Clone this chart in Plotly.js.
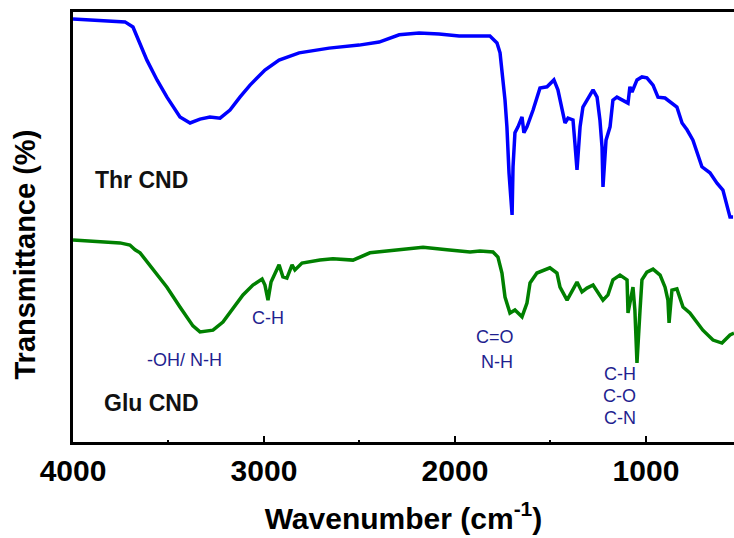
<!DOCTYPE html>
<html>
<head>
<meta charset="utf-8">
<script src="https://cdn.plot.ly/plotly-3.0.1.min.js"></script>
<style>html,body{margin:0;padding:0;background:#fff;}#chart{width:734px;height:538px;}</style>
</head>
<body>
<div id="chart"></div>
<script>
// Thr CND spectrum (wavenumber cm^-1, transmittance a.u.)
const thrWavenumber = [4000,3728,3686,3613,3560,3508,3440,3387,3335,3283,3230,3178,3126,3073,2995,2921,2816,2659,2502,2397,2292,2188,2083,1978,1874,1817,1780,1764,1738,1728,1717,1701,1696,1686,1670,1649,1639,1623,1591,1555,1518,1482,1461,1424,1408,1382,1372,1361,1345,1330,1277,1256,1241,1230,1225,1209,1188,1173,1152,1120,1094,1084,1073,1047,1021,995,963,937,900,838,811,785,754,707,665,628,597,560,544];
const thrTransmittance = [98.4,97.7,96.5,88.8,84.2,80.2,75.6,74.2,75.1,75.6,75.3,77.2,80.2,83.0,86.5,88.8,90.5,91.6,92.3,93.0,94.7,95.1,94.9,94.4,94.4,94.4,92.8,90.5,79.5,73.3,62.6,52.8,64.0,71.9,73.3,75.6,71.9,73.3,77.2,82.3,82.6,84.2,81.9,74.2,75.3,74.9,69.5,63.3,73.3,77.9,81.9,80.2,74.9,68.6,59.3,70.2,73.3,79.5,80.2,79.5,78.8,82.6,81.4,84.2,84.9,84.7,83.0,80.2,80.0,77.9,74.2,72.6,70.2,64.0,62.6,60.2,58.6,52.3,52.3];

// Glu CND spectrum
const gluWavenumber = [4000,3754,3702,3675,3649,3581,3508,3440,3372,3335,3267,3215,3162,3110,3058,3010,2995,2979,2963,2942,2921,2901,2880,2853,2838,2801,2707,2639,2534,2445,2304,2167,2042,1921,1869,1801,1775,1754,1738,1712,1686,1649,1623,1607,1571,1503,1466,1450,1413,1382,1361,1335,1309,1277,1251,1225,1199,1173,1136,1099,1094,1073,1068,1058,1047,1031,1021,995,963,926,900,885,879,864,838,806,770,702,649,602,560,539];
const gluTransmittance = [47.0,46.3,45.8,44.7,44.0,40.0,36.0,31.4,27.0,25.6,26.0,27.9,31.2,34.2,36.5,37.9,36.5,33.0,37.2,39.3,41.2,38.4,38.1,41.2,40.0,41.6,42.3,42.6,42.3,44.0,44.7,45.3,44.7,44.2,44.4,44.2,43.0,39.3,33.7,30.0,30.7,29.1,32.3,37.0,39.3,40.5,39.3,36.0,33.0,35.3,37.2,34.9,35.8,36.5,34.9,33.0,34.2,37.7,38.8,37.7,30.0,35.3,36.0,30.7,18.4,30.7,37.7,39.5,40.2,38.8,36.0,33.0,27.7,35.3,35.6,31.4,30.0,26.0,23.7,23.0,24.9,25.3];

// Sample labels
const sampleNames = ["Thr CND", "Glu CND"];
const sampleLabelX = [3895, 3848];
const sampleLabelY = [60.9, 9.1];

// Band assignment labels
const bandLabels = ["-OH/ N-H", "C-H", "C=O", "N-H", "C-H", "C-O", "C-N"];
const bandLabelX = [3414, 2979, 1790, 1780, 1136, 1136, 1136];
const bandLabelY = [19.1, 28.8, 24.4, 18.6, 15.8, 10.7, 5.6];

const xTickVals = [4000, 3000, 2000, 1000];
const xTickText = ["4000", "3000", "2000", "1000"];

const FONT = "Liberation Sans, Arial, Helvetica, sans-serif";

const traces = [
  {x: thrWavenumber, y: thrTransmittance, type: "scatter", mode: "lines", name: "Thr CND",
   line: {color: "#0000ff", width: 3.5}},
  {x: gluWavenumber, y: gluTransmittance, type: "scatter", mode: "lines", name: "Glu CND",
   line: {color: "#008000", width: 3.5}}
];

const annotations = [];
sampleNames.forEach((t, i) => annotations.push({
  x: sampleLabelX[i], y: sampleLabelY[i], xref: "x", yref: "y", text: t, showarrow: false,
  xanchor: "left", yanchor: "middle", font: {family: FONT, size: 23, weight: "bold", color: "#111"}
}));
bandLabels.forEach((t, i) => annotations.push({
  x: bandLabelX[i], y: bandLabelY[i], xref: "x", yref: "y", text: t, showarrow: false,
  xanchor: "center", yanchor: "middle", font: {family: FONT, size: 18, color: "#1f1f8f"}
}));
annotations.push({
  x: -0.072, y: 0.437, xref: "paper", yref: "paper", text: "Transmittance (%)", showarrow: false,
  textangle: -90, xanchor: "center", yanchor: "middle",
  font: {family: FONT, size: 29, weight: "bold", color: "#000"}
});

const layout = {
  width: 734, height: 538,
  margin: {l: 73, r: 0, t: 12, b: 96},
  paper_bgcolor: "#fff", plot_bgcolor: "#fff",
  showlegend: false,
  xaxis: {
    range: [4000, 539], showgrid: false, zeroline: false,
    showline: true, linecolor: "#000", linewidth: 3, mirror: true,
    ticks: "inside", ticklen: 6, tickwidth: 2.5, tickcolor: "#000",
    tickvals: xTickVals, ticktext: xTickText,
    tickfont: {family: FONT, size: 30, weight: "bold", color: "#000"},
    minor: {dtick: 500, tick0: 0, ticks: "inside", ticklen: 2.5, tickwidth: 2, tickcolor: "#000"},
    title: {text: "Wavenumber (cm<sup>-1</sup>)", standoff: 22,
            font: {family: FONT, size: 30, weight: "bold", color: "#000"}}
  },
  yaxis: {
    range: [0, 100], showgrid: false, zeroline: false,
    showline: true, linecolor: "#000", linewidth: 3, mirror: false,
    ticks: "", showticklabels: false
  },
  annotations: annotations
};

Plotly.newPlot("chart", traces, layout, {displayModeBar: false, staticPlot: true});
</script>
</body>
</html>
